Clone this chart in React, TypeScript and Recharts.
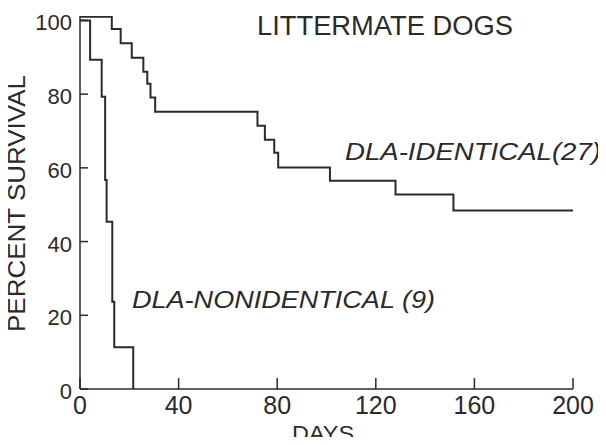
import { LineChart, Line, XAxis, YAxis } from "recharts";

// Kaplan-Meier steps (day, percent surviving)
const identicalDays = [0, 12.9, 16.5, 21, 25.7, 27.3, 28.6, 30.5, 72, 75, 78.8, 80.4, 101.4, 128, 151.5, 200];
const identicalPct = [101, 97.7, 93.8, 89.9, 86.1, 82.8, 79.1, 75.2, 71.4, 67.6, 64.1, 60.1, 56.5, 52.8, 48.4, 48.4];

const nonidenticalDays = [0, 4.1, 8.8, 10.2, 10.8, 13.1, 13.9, 21.6];
const nonidenticalPct = [100, 89.3, 79.3, 56.7, 45.4, 23.7, 11.3, 0];

const xTicks = [0, 40, 80, 120, 160, 200];
const yTicks = [0, 20, 40, 60, 80, 100];

const identical = identicalDays.map((day, i) => ({ day, pct: identicalPct[i] }));
const nonidentical = nonidenticalDays.map((day, i) => ({ day, pct: nonidenticalPct[i] }));

const INK = "#2a2a2a";
const FONT = "'Liberation Sans', Arial, sans-serif";

const XTick = ({ x, y, payload }: any) => (
  <g>
    <line x1={x} x2={x} y1={y} y2={y - 11} stroke={INK} strokeWidth={1.5} />
    <text x={x} y={y + 25} textAnchor="middle" fontSize={25} fontFamily={FONT} fill={INK}>
      {payload.value}
    </text>
  </g>
);

const YTick = ({ x, y, payload }: any) => (
  <g>
    <line x1={x} x2={x + 8} y1={y} y2={y} stroke={INK} strokeWidth={1.5} />
    <text x={x - 8} y={y + 10} textAnchor="end" fontSize={22} fontFamily={FONT} fill={INK}>
      {payload.value}
    </text>
  </g>
);

export default function App() {
  return (
    <div style={{ position: "relative", width: 606, height: 445, margin: -8, background: "#fff" }}>
      <LineChart width={606} height={445} margin={{ top: 16, right: 33, bottom: 0, left: 0 }}>
        <XAxis
          type="number"
          dataKey="day"
          domain={[0, 200]}
          ticks={xTicks}
          tickSize={0}
          tickMargin={0}
          tick={<XTick />}
          height={56}
          axisLine={{ stroke: INK, strokeWidth: 1.5 }}
          allowDataOverflow
        />
        <YAxis
          type="number"
          domain={[0, 101.2]}
          ticks={yTicks}
          tickSize={0}
          tickMargin={0}
          tick={<YTick />}
          width={80}
          axisLine={{ stroke: INK, strokeWidth: 1.5 }}
          allowDataOverflow
        />
        <Line data={identical} dataKey="pct" type="stepAfter" stroke={INK} strokeWidth={2} dot={false} isAnimationActive={false} />
        <Line data={nonidentical} dataKey="pct" type="stepAfter" stroke={INK} strokeWidth={2} dot={false} isAnimationActive={false} />
      </LineChart>
      <svg width={606} height={445} style={{ position: "absolute", left: 0, top: 0, pointerEvents: "none" }}>
        <text x={257} y={35} fontSize={27} fontFamily={FONT} fill={INK} textLength={256} lengthAdjust="spacingAndGlyphs">
          LITTERMATE DOGS
        </text>
        <text
          x={16.5}
          y={203.5}
          transform="rotate(-90 16.5 203.5)"
          dy={8.5}
          textAnchor="middle"
          fontSize={24}
          fontFamily={FONT}
          fill={INK}
          textLength={257}
          lengthAdjust="spacingAndGlyphs"
        >
          PERCENT SURVIVAL
        </text>
        <text x={323} y={441} textAnchor="middle" fontSize={22} fontFamily={FONT} fill={INK} textLength={62} lengthAdjust="spacingAndGlyphs">
          DAYS
        </text>
        <text x={345} y={160} fontSize={24} fontStyle="italic" fontFamily={FONT} fill={INK} textLength={256} lengthAdjust="spacingAndGlyphs">
          DLA-IDENTICAL(27)
        </text>
        <text x={132} y={308} fontSize={24} fontStyle="italic" fontFamily={FONT} fill={INK} textLength={303} lengthAdjust="spacingAndGlyphs">
          DLA-NONIDENTICAL (9)
        </text>
      </svg>
    </div>
  );
}
